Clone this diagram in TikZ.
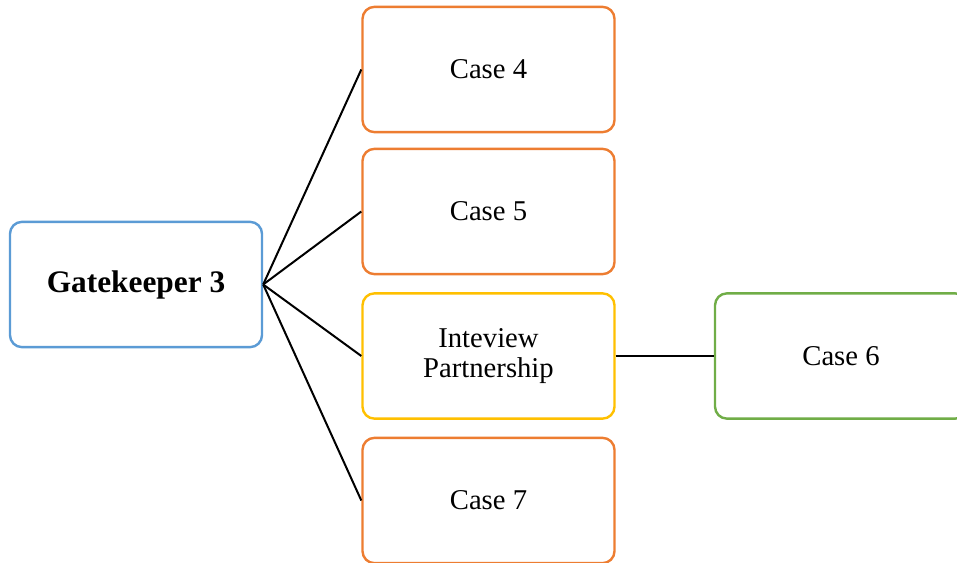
\documentclass[tikz,border=0pt]{standalone}
\usepackage{fontspec}
\setmainfont{Liberation Serif}
\definecolor{boxblue}{HTML}{5B9BD5}
\definecolor{boxorange}{HTML}{ED7D31}
\definecolor{boxyellow}{HTML}{FFC000}
\definecolor{boxgreen}{HTML}{70AD47}
\begin{document}
\begin{tikzpicture}[x=0.75pt,y=-0.75pt,
  card/.style={draw=#1, line width=1.8pt, rounded corners=9pt, fill=white,
    text=black, minimum width=189pt, minimum height=94pt, inner sep=0pt,
    align=center, font=\fontsize{21.5}{22.5}\selectfont},
  link/.style={line width=1.5pt, draw=black}]
\useasboundingbox (0,0) rectangle (957,563);
\clip (0,0) rectangle (957,563);
\node[card=boxblue, font=\fontsize{23.5}{24}\selectfont\bfseries] (gk) at (136,284.5) {Gatekeeper 3};
\node[card=boxorange] (c4) at (488.5,69.5) {Case 4};
\node[card=boxorange] (c5) at (488.5,211.5) {Case 5};
\node[card=boxyellow] (ip) at (488.5,356) {Inteview\\Partnership};
\node[card=boxorange] (c7) at (488.5,500.5) {Case 7};
\node[card=boxgreen] (c6) at (841,356) {Case 6};
\draw[link] (gk.east) -- (c4.west);
\draw[link] (gk.east) -- (c5.west);
\draw[link] (gk.east) -- (ip.west);
\draw[link] (gk.east) -- (c7.west);
\draw[link] (ip.east) -- (c6.west);
\end{tikzpicture}
\end{document}
